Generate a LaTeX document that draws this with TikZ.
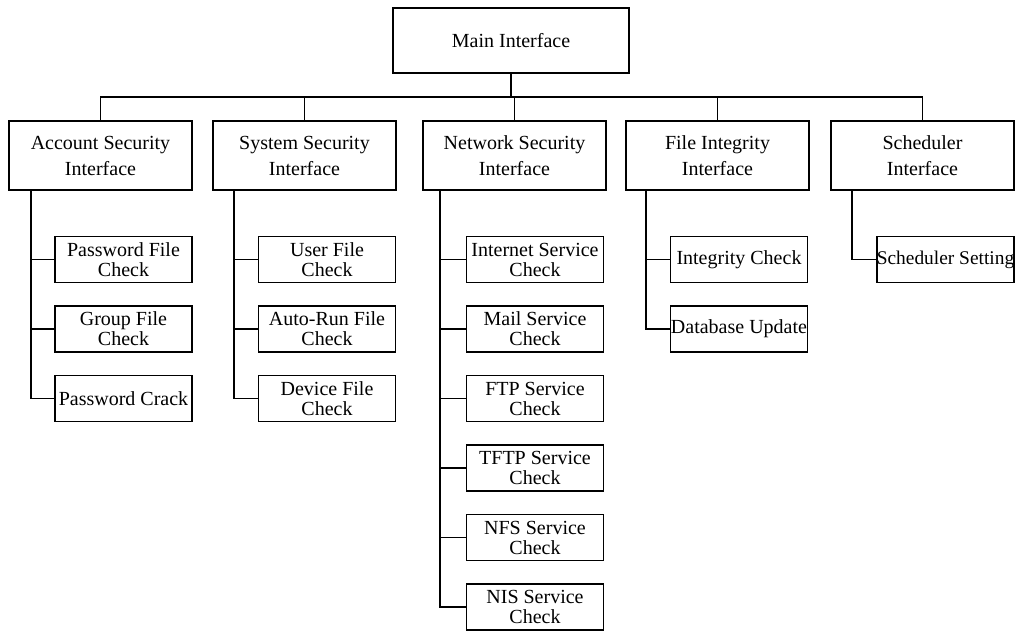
\documentclass[tikz,border=0pt]{standalone}
\usepackage{fontspec}
\setmainfont{Liberation Serif}
\begin{document}
\begin{tikzpicture}[x=1pt,y=-1pt,
  box/.style={draw, line width=1.6pt, inner sep=0pt, align=center},
  topbox/.style={box, minimum width=236pt, minimum height=65pt, font=\fontsize{20}{26}\selectfont},
  midbox/.style={box, minimum width=183pt, minimum height=69pt, font=\fontsize{20}{26}\selectfont},
  leafbox/.style={box, minimum width=137pt, minimum height=46pt, font=\fontsize{20}{20}\selectfont},
  wire/.style={line width=1.6pt}]
\useasboundingbox (0,0) rectangle (1015,630);
% top
\node[topbox] (main) at (511,40.5) {Main Interface};
% level 1
\node[midbox] (acc) at (100.5,155.5) {Account Security\\Interface};
\node[midbox] (sys) at (304.5,155.5) {System Security\\Interface};
\node[midbox] (net) at (514.5,155.5) {Network Security\\Interface};
\node[midbox] (fil) at (717.5,155.5) {File Integrity\\Interface};
\node[midbox] (sch) at (922.5,155.5) {Scheduler\\Interface};
\coordinate (bus) at (511,97);
\draw[wire] (main.south) -- (main.south |- bus);
\draw[wire] (acc.north) -- (acc.north |- bus) -- (sch.north |- bus) -- (sch.north);
\draw[wire] (sys.north) -- (sys.north |- bus);
\draw[wire] (net.north) -- (net.north |- bus);
\draw[wire] (fil.north) -- (fil.north |- bus);
% account children
\node[leafbox] (a1) at (123.5,259.5) {Password File\\Check};
\node[leafbox] (a2) at (123.5,329) {Group File\\Check};
\node[leafbox] (a3) at (123.5,398.5) {Password Crack};
% system children
\node[leafbox] (s1) at (327,259.5) {User File\\Check};
\node[leafbox] (s2) at (327,329) {Auto-Run File\\Check};
\node[leafbox] (s3) at (327,398.5) {Device File\\Check};
% network children
\node[leafbox] (n1) at (535,259.5) {Internet Service\\Check};
\node[leafbox] (n2) at (535,329) {Mail Service\\Check};
\node[leafbox] (n3) at (535,398.5) {FTP Service\\Check};
\node[leafbox] (n4) at (535,468) {TFTP Service\\Check};
\node[leafbox] (n5) at (535,537.5) {NFS Service\\Check};
\node[leafbox] (n6) at (535,607) {NIS Service\\Check};
% file integrity children
\node[leafbox] (f1) at (739,259.5) {Integrity Check};
\node[leafbox] (f2) at (739,329) {Database Update};
% scheduler child
\node[leafbox, font=\fontsize{19.4}{20}\selectfont] (c1) at (945.5,259.5) {Scheduler Setting};
% trunks
\foreach \c in {a1,a2,a3} \draw[wire] ([xshift=23pt]acc.south west) |- (\c.west);
\foreach \c in {s1,s2,s3} \draw[wire] ([xshift=22pt]sys.south west) |- (\c.west);
\foreach \c in {n1,n2,n3,n4,n5,n6} \draw[wire] ([xshift=18pt]net.south west) |- (\c.west);
\foreach \c in {f1,f2} \draw[wire] ([xshift=21pt]fil.south west) |- (\c.west);
\draw[wire] ([xshift=22pt]sch.south west) |- (c1.west);
\end{tikzpicture}
\end{document}
